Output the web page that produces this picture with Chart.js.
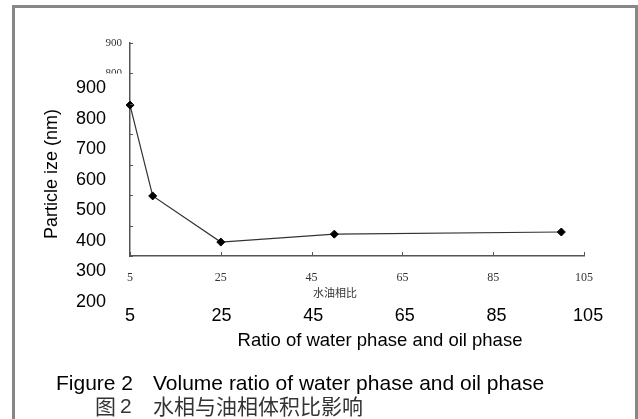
<!DOCTYPE html>
<html>
<head>
<meta charset="utf-8">
<script src="https://cdn.jsdelivr.net/npm/chart.js@4.4.1/dist/chart.umd.min.js"></script>
<style>
  html, body { margin: 0; padding: 0; background: #fff; overflow: hidden; }
  #wrap { position: relative; width: 638px; height: 419px; }
</style>
</head>
<body>
<div id="wrap"><canvas id="myChart"></canvas></div>
<script>
// water/oil ratio vs particle size (read against the large labels)
var ratio = [5, 10, 25, 50, 100];
var particleSize = [844, 547, 396, 422, 429];

// ticks of the small original axes
var smallXTicks = [5, 25, 45, 65, 85, 105];
var smallYTicks = [200, 300, 400, 500, 600, 700, 800, 900];
var smallYLabels = [900, 800];

// large labels laid over the picture
var bigXLabels = [5, 25, 45, 65, 85, 105];
var bigYLabels = [900, 800, 700, 600, 500, 400, 300, 200];

var yTitle = "Particle ize (nm)";
var xTitle = "Ratio of water phase and oil phase";
var smallXTitle = "水油相比";
var captionEn = ["Figure 2", "Volume ratio of water phase and oil phase"];
var captionZh = ["图", "2", "水相与油相体积比影响"];

var sans = "'Liberation Sans', Arial, sans-serif";
var cjk = "'Noto Sans CJK SC', sans-serif";

var overlay = {
  id: "overlay",
  beforeDraw: function (chart) {
    var ctx = chart.ctx;
    ctx.save();
    ctx.fillStyle = "#fff";
    ctx.fillRect(0, 0, chart.width, chart.height);
    // frame
    ctx.fillStyle = "#878787";
    ctx.fillRect(12, 5, 3, 420);
    ctx.fillRect(12, 5, 626, 3);
    ctx.fillRect(635, 5, 3, 420);
    ctx.restore();
  },
  afterDraw: function (chart) {
    var ctx = chart.ctx;
    var x = chart.scales.x, y = chart.scales.y;
    var x2 = chart.scales.x2, y2 = chart.scales.y2;
    var area = chart.chartArea;
    ctx.save();

    // inward tick marks
    ctx.strokeStyle = "#555";
    ctx.lineWidth = 1;
    ctx.beginPath();
    y.ticks.forEach(function (t) {
      var py = Math.round(y.getPixelForValue(t.value)) + 0.5;
      ctx.moveTo(area.left, py);
      ctx.lineTo(area.left + 3, py);
    });
    x.ticks.forEach(function (t) {
      var px = Math.round(x.getPixelForValue(t.value)) + 0.5;
      ctx.moveTo(px, area.bottom);
      ctx.lineTo(px, area.bottom - 4);
    });
    ctx.stroke();

    // patch hiding most of the small y labels
    ctx.fillStyle = "#fff";
    ctx.fillRect(96, 73.5, 30, 190);

    // small x title
    ctx.fillStyle = "#333";
    ctx.font = "11px " + cjk;
    ctx.textAlign = "center";
    ctx.textBaseline = "middle";
    ctx.fillText(smallXTitle, 335, 293);

    // big labels
    ctx.fillStyle = "#000";
    ctx.font = "18px " + sans;
    ctx.textAlign = "right";
    bigYLabels.forEach(function (v) {
      ctx.fillText(String(v), 106, y2.getPixelForValue(v));
    });
    ctx.textAlign = "center";
    bigXLabels.forEach(function (v) {
      ctx.fillText(String(v), x2.getPixelForValue(v), 316);
    });
    ctx.font = "18.5px " + sans;
    ctx.fillText(xTitle, 380, 341);

    ctx.save();
    ctx.translate(52, 174);
    ctx.rotate(-Math.PI / 2);
    ctx.font = "18px " + sans;
    ctx.fillText(yTitle, 0, 0);
    ctx.restore();

    // captions
    ctx.textAlign = "left";
    ctx.textBaseline = "alphabetic";
    ctx.font = "21px " + sans;
    ctx.fillText(captionEn[0], 56, 390);
    ctx.fillText(captionEn[1], 153, 390);

    ctx.textBaseline = "middle";
    ctx.fillStyle = "#333";
    ctx.font = "21px " + cjk;
    ctx.fillText(captionZh[0], 95, 406);
    ctx.font = "21px " + sans;
    ctx.fillText(captionZh[1], 120, 407);
    ctx.font = "21px " + cjk;
    ctx.fillText(captionZh[2], 153, 406);

    ctx.restore();
  }
};

new Chart(document.getElementById("myChart"), {
  type: "line",
  data: {
    datasets: [{
      data: ratio.map(function (r, i) { return { x: r, y: particleSize[i] }; }),
      xAxisID: "x",
      yAxisID: "y2",
      borderColor: "#333",
      borderWidth: 1.2,
      pointStyle: "rectRot",
      pointRadius: 4,
      pointBackgroundColor: "#000",
      pointBorderColor: "#000",
      pointBorderWidth: 1,
      tension: 0,
      clip: false
    }]
  },
  options: {
    responsive: true,
    maintainAspectRatio: false,
    animation: false,
    events: [],
    layout: { padding: { left: 100, top: 43, right: 54, bottom: 133 } },
    plugins: { legend: { display: false }, tooltip: { enabled: false } },
    scales: {
      x: {
        type: "linear",
        min: 5,
        max: 105,
        afterBuildTicks: function (s) { s.ticks = smallXTicks.map(function (v) { return { value: v }; }); },
        afterFit: function (s) { s.height = 30; },
        grid: { display: false, drawTicks: false },
        border: { color: "#555", width: 1.5 },
        ticks: {
          font: { family: "'Liberation Serif', serif", size: 12 },
          color: "#333",
          padding: 15,
          autoSkip: false,
          maxRotation: 0
        }
      },
      y: {
        type: "linear",
        min: 200,
        max: 900,
        afterBuildTicks: function (s) { s.ticks = smallYTicks.map(function (v) { return { value: v }; }); },
        afterFit: function (s) { s.width = 30; },
        grid: { display: false, drawTicks: false },
        border: { color: "#555", width: 1.5 },
        ticks: {
          font: { family: "'Liberation Serif', serif", size: 11 },
          color: "#333",
          padding: 8,
          callback: function (v) { return smallYLabels.indexOf(v) >= 0 ? String(v) : ""; }
        }
      },
      x2: { type: "linear", display: false, min: 5, max: 104.1 },
      y2: { type: "linear", display: false, min: 350.5, max: 1047.2 }
    }
  },
  plugins: [overlay]
});
</script>
</body>
</html>
